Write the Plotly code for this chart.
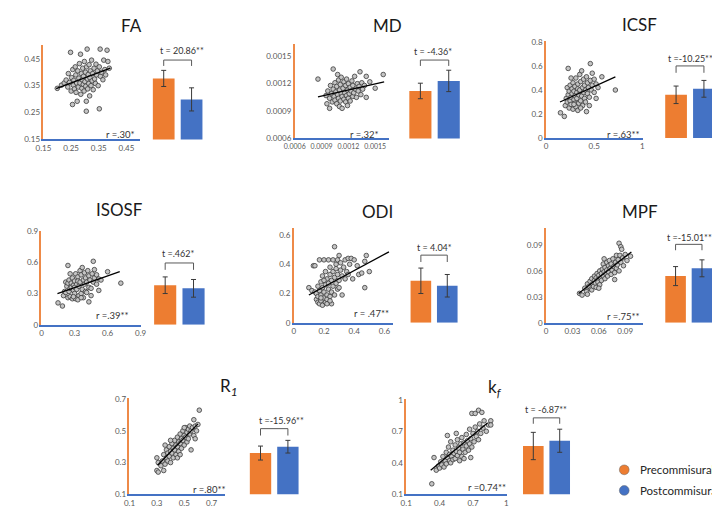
import plotly.graph_objects as go

W, H = 720, 508
ORANGE = "#ED7D31"
BLUE = "#4472C4"
FONT = "Lato"

# ---------------- data ----------------
metrics = ["FA", "MD", "ICSF", "ISOSF", "ODI", "MPF", "R1", "kf"]
titles = ["FA", "MD", "ICSF", "ISOSF", "ODI", "MPF", "R<sub><i>1</i></sub>", "k<sub><i>f</i></sub>"]
r_labels = ["r =.30*", "r =.32*", "r =.63**", "r =.39**", "r = .47**", "r =.75**", "r =.80**", "r =0.74**"]
t_labels = ["t = 20.86**", "t = -4.36*", "t =-10.25**", "t =.462*", "t = 4.04*", "t =-15.01**", "t =-15.96**", "t = -6.87**"]
group_names = ["Precommisural", "Postcommisural"]
group_colors = [ORANGE, BLUE]

bar_pre = [0.377, 0.00112, 0.36, 0.38, 0.287, 0.054, 0.36, 0.56]
bar_post = [0.299, 0.00123, 0.41, 0.35, 0.253, 0.063, 0.40, 0.61]
err_pre = [0.030, 0.000085, 0.073, 0.080, 0.087, 0.011, 0.044, 0.13]
err_post = [0.043, 0.000117, 0.070, 0.085, 0.077, 0.0098, 0.040, 0.11]

axis_ranges = [[0.15, 0.5], [0.0006, 0.00163], [0, 0.805], [0, 0.905],
               [0, 0.65], [0, 0.11], [0.1, 0.705], [0.1, 1.005]]
xaxis_ranges = [[0.15, 0.5], [0.0006, 0.00165], [0, 1.005], [0, 0.905],
                [0, 0.66], [0, 0.11], [0.1, 0.8], [0.1, 1.005]]
tick_values = [[0.15, 0.25, 0.35, 0.45], [0.0006, 0.0009, 0.0012, 0.0015],
               [0, 0.2, 0.4, 0.6, 0.8], [0, 0.3, 0.6, 0.9], [0, 0.2, 0.4, 0.6],
               [0, 0.03, 0.06, 0.09], [0.1, 0.3, 0.5, 0.7], [0.1, 0.4, 0.7, 1]]
tick_text = [["0.15", "0.25", "0.35", "0.45"], ["0.0006", "0.0009", "0.0012", "0.0015"],
             ["0", "0.2", "0.4", "0.6", "0.8"], ["0", "0.3", "0.6", "0.9"], ["0", "0.2", "0.4", "0.6"],
             ["0", "0.03", "0.06", "0.09"], ["0.1", "0.3", "0.5", "0.7"], ["0.1", "0.4", "0.7", "1"]]
xtick_values = [[0.15, 0.25, 0.35, 0.45], [0.0006, 0.0009, 0.0012, 0.0015], [0, 0.5, 1],
                [0, 0.3, 0.6, 0.9], [0, 0.2, 0.4, 0.6], [0, 0.03, 0.06, 0.09],
                [0.1, 0.3, 0.5, 0.7], [0.1, 0.4, 0.7, 1]]
xtick_text = [["0.15", "0.25", "0.35", "0.45"], ["0.0006", "0.0009", "0.0012", "0.0015"], ["0", "0.5", "1"],
              ["0", "0.3", "0.6", "0.9"], ["0", "0.2", "0.4", "0.6"], ["0", "0.03", "0.06", "0.09"],
              ["0.1", "0.3", "0.5", "0.7"], ["0.1", "0.4", "0.7", "1"]]

fit_x = [[0.196, 0.392], [0.00086, 0.00160], [0.145, 0.72], [0.145, 0.71],
         [0.10, 0.63], [0.037, 0.097], [0.305, 0.60], [0.32, 0.83]]
fit_y = [[0.339, 0.415], [0.001056, 0.00122], [0.30, 0.51], [0.30, 0.51],
         [0.19, 0.485], [0.034, 0.082], [0.283, 0.544], [0.33, 0.78]]

FA_pts = [(0.200,0.340),(0.215,0.352),(0.225,0.360),(0.232,0.371),(0.238,0.345),(0.240,0.395),(0.244,0.362),
          (0.248,0.474),(0.250,0.330),(0.252,0.380),(0.255,0.280),(0.256,0.410),(0.258,0.352),(0.260,0.370),
          (0.262,0.338),(0.265,0.420),(0.267,0.390),(0.268,0.325),(0.270,0.360),(0.272,0.292),(0.274,0.405),
          (0.276,0.345),(0.278,0.378),(0.280,0.432),(0.282,0.360),(0.284,0.467),(0.285,0.318),(0.287,0.395),
          (0.289,0.340),(0.290,0.372),(0.292,0.415),(0.294,0.355),(0.295,0.385),(0.297,0.330),(0.298,0.440),
          (0.300,0.365),(0.302,0.400),(0.303,0.348),(0.305,0.255),(0.305,0.292),(0.306,0.420),(0.308,0.486),
          (0.309,0.375),(0.310,0.338),(0.312,0.392),(0.314,0.358),(0.315,0.428),(0.317,0.312),(0.318,0.380),
          (0.320,0.405),(0.322,0.350),(0.324,0.445),(0.326,0.368),(0.328,0.395),(0.330,0.335),(0.333,0.415),
          (0.335,0.375),(0.338,0.358),(0.340,0.430),(0.342,0.390),(0.345,0.405),(0.348,0.350),(0.352,0.264),
          (0.352,0.420),(0.355,0.486),(0.356,0.385),(0.360,0.400),(0.365,0.372),(0.368,0.445),(0.372,0.410),
          (0.375,0.390),(0.380,0.482),(0.383,0.440),(0.388,0.415)]

MD_pts = [(0.00086,0.00125),(0.00095,0.00107),(0.00097,0.00112),(0.00099,0.00093),(0.00099,0.00104),
          (0.00100,0.00118),(0.00101,0.00109),(0.00102,0.00100),(0.00103,0.00136),(0.00103,0.00114),
          (0.00104,0.00106),(0.00105,0.00121),(0.00105,0.00102),(0.00106,0.00111),(0.00107,0.00117),
          (0.00107,0.00098),(0.00108,0.00108),(0.00109,0.00124),(0.00109,0.00104),(0.00110,0.00095),
          (0.00110,0.00113),(0.00111,0.00119),(0.00111,0.00101),(0.00112,0.00109),(0.00112,0.00127),
          (0.00113,0.00093),(0.00113,0.00106),(0.00114,0.00115),(0.00115,0.00122),(0.00115,0.00103),
          (0.00116,0.00110),(0.00117,0.00118),(0.00117,0.00100),(0.00118,0.00107),(0.00118,0.00125),
          (0.00119,0.00113),(0.00120,0.00104),(0.00120,0.00120),(0.00121,0.00109),(0.00122,0.00116),
          (0.00122,0.00101),(0.00123,0.00112),(0.00124,0.00123),(0.00125,0.00106),(0.00125,0.00118),
          (0.00126,0.00110),(0.00127,0.00128),(0.00128,0.00114),(0.00129,0.00105),(0.00130,0.00120),
          (0.00131,0.00112),(0.00132,0.00117),(0.00133,0.00133),(0.00134,0.00108),(0.00135,0.00121),
          (0.00136,0.00114),(0.00138,0.00118),(0.00140,0.00128),(0.00140,0.00105),(0.00144,0.00122),
          (0.00150,0.00115),(0.00159,0.00130),(0.00108,0.00130),(0.00096,0.00098),(0.00119,0.00096)]

ICSF_pts = [(0.15,0.21),(0.19,0.18),(0.20,0.27),(0.21,0.33),(0.22,0.30),(0.22,0.42),(0.23,0.58),(0.23,0.36),
            (0.24,0.25),(0.24,0.39),(0.25,0.31),(0.25,0.44),(0.26,0.34),(0.26,0.28),(0.27,0.41),(0.27,0.37),
            (0.28,0.24),(0.28,0.46),(0.29,0.32),(0.29,0.39),(0.30,0.29),(0.30,0.43),(0.30,0.35),(0.31,0.50),
            (0.31,0.26),(0.32,0.38),(0.32,0.33),(0.33,0.45),(0.33,0.41),(0.34,0.29),(0.34,0.36),(0.35,0.53),
            (0.35,0.40),(0.36,0.31),(0.36,0.47),(0.37,0.35),(0.37,0.56),(0.38,0.42),(0.38,0.27),(0.39,0.38),
            (0.39,0.49),(0.40,0.33),(0.40,0.44),(0.41,0.40),(0.42,0.22),(0.42,0.51),(0.43,0.37),(0.43,0.46),
            (0.44,0.42),(0.45,0.34),(0.46,0.62),(0.46,0.48),(0.47,0.40),(0.48,0.54),(0.48,0.44),(0.50,0.49),
            (0.50,0.38),(0.52,0.33),(0.52,0.45),(0.54,0.42),(0.58,0.51),(0.72,0.40),(0.26,0.50),(0.33,0.23),
            (0.45,0.27),(0.29,0.28),(0.36,0.25),(0.41,0.30)]

ISOSF_pts = [(0.15,0.21),(0.19,0.18),(0.20,0.28),(0.21,0.32),(0.22,0.31),(0.22,0.41),(0.24,0.57),(0.23,0.37),
             (0.24,0.26),(0.24,0.40),(0.25,0.32),(0.25,0.43),(0.26,0.35),(0.26,0.27),(0.27,0.40),(0.27,0.36),
             (0.28,0.25),(0.28,0.45),(0.29,0.33),(0.29,0.38),(0.30,0.30),(0.30,0.42),(0.30,0.36),(0.31,0.49),
             (0.31,0.25),(0.32,0.39),(0.32,0.34),(0.33,0.46),(0.33,0.42),(0.34,0.28),(0.34,0.37),(0.35,0.52),
             (0.35,0.41),(0.36,0.30),(0.36,0.48),(0.37,0.34),(0.37,0.55),(0.38,0.43),(0.38,0.26),(0.39,0.39),
             (0.39,0.50),(0.40,0.32),(0.40,0.45),(0.41,0.41),(0.43,0.22),(0.42,0.52),(0.43,0.36),(0.43,0.47),
             (0.44,0.43),(0.45,0.35),(0.47,0.61),(0.46,0.49),(0.47,0.41),(0.48,0.53),(0.48,0.45),(0.50,0.48),
             (0.50,0.39),(0.52,0.33),(0.52,0.44),(0.54,0.43),(0.60,0.51),(0.72,0.40),(0.26,0.49),(0.33,0.24),
             (0.45,0.28),(0.29,0.27),(0.36,0.26),(0.41,0.31)]

ODI_pts = [(0.10,0.24),(0.12,0.22),(0.13,0.39),(0.14,0.39),(0.14,0.21),(0.15,0.16),(0.15,0.20),(0.16,0.14),
           (0.16,0.18),(0.16,0.25),(0.17,0.13),(0.17,0.43),(0.17,0.22),(0.18,0.15),(0.18,0.28),(0.18,0.19),
           (0.19,0.12),(0.19,0.24),(0.19,0.32),(0.20,0.17),(0.20,0.43),(0.20,0.21),(0.21,0.14),(0.21,0.26),
           (0.21,0.35),(0.22,0.19),(0.22,0.30),(0.22,0.16),(0.23,0.43),(0.23,0.23),(0.23,0.27),(0.24,0.18),
           (0.24,0.33),(0.24,0.38),(0.25,0.21),(0.25,0.29),(0.26,0.43),(0.26,0.25),(0.26,0.35),(0.27,0.52),
           (0.27,0.19),(0.27,0.31),(0.28,0.40),(0.28,0.27),(0.28,0.37),(0.29,0.43),(0.29,0.33),(0.29,0.23),
           (0.30,0.46),(0.30,0.29),(0.31,0.36),(0.31,0.41),(0.32,0.19),(0.32,0.32),(0.33,0.38),(0.34,0.43),
           (0.34,0.30),(0.35,0.35),(0.36,0.44),(0.36,0.33),(0.37,0.40),(0.38,0.44),(0.39,0.30),(0.40,0.43),
           (0.42,0.39),(0.43,0.33),(0.45,0.34),(0.47,0.24),(0.47,0.42),(0.48,0.46),(0.50,0.35),(0.25,0.13),
           (0.20,0.29),(0.30,0.24),(0.18,0.17),(0.22,0.13),(0.24,0.15)]

MPF_pts = [(0.038,0.034),(0.041,0.032),(0.044,0.040),(0.046,0.036),(0.047,0.033),(0.047,0.045),(0.049,0.042),
           (0.050,0.048),(0.051,0.039),(0.052,0.038),(0.052,0.051),(0.053,0.045),(0.054,0.042),(0.055,0.049),
           (0.055,0.054),(0.056,0.046),(0.057,0.052),(0.057,0.041),(0.058,0.057),(0.059,0.050),(0.059,0.047),
           (0.060,0.055),(0.061,0.044),(0.061,0.060),(0.062,0.052),(0.063,0.057),(0.063,0.049),(0.064,0.062),
           (0.065,0.054),(0.065,0.068),(0.066,0.059),(0.067,0.051),(0.067,0.064),(0.068,0.057),(0.069,0.070),
           (0.069,0.061),(0.070,0.054),(0.071,0.066),(0.071,0.059),(0.072,0.072),(0.073,0.063),(0.074,0.056),
           (0.074,0.068),(0.075,0.061),(0.076,0.074),(0.077,0.065),(0.078,0.058),(0.079,0.070),(0.080,0.063),
           (0.080,0.078),(0.081,0.067),(0.082,0.073),(0.083,0.092),(0.083,0.060),(0.084,0.078),(0.085,0.088),
           (0.085,0.070),(0.086,0.085),(0.087,0.075),(0.088,0.066),(0.090,0.079),(0.092,0.072),(0.096,0.077),
           (0.078,0.050),(0.066,0.074),(0.060,0.040)]

R1_pts = [(0.30,0.25),(0.31,0.24),(0.30,0.33),(0.31,0.30),(0.33,0.28),(0.35,0.25),(0.34,0.31),(0.35,0.35),
          (0.36,0.29),(0.37,0.33),(0.37,0.38),(0.38,0.31),(0.38,0.36),(0.39,0.40),(0.39,0.34),(0.40,0.37),
          (0.40,0.30),(0.41,0.42),(0.41,0.36),(0.42,0.39),(0.42,0.33),(0.43,0.44),(0.43,0.38),(0.44,0.41),
          (0.44,0.35),(0.45,0.46),(0.45,0.40),(0.46,0.43),(0.46,0.37),(0.47,0.48),(0.47,0.42),(0.48,0.45),
          (0.48,0.39),(0.49,0.50),(0.49,0.44),(0.50,0.47),(0.50,0.41),(0.51,0.52),(0.51,0.46),(0.52,0.49),
          (0.52,0.43),(0.53,0.51),(0.53,0.45),(0.54,0.53),(0.54,0.48),(0.55,0.50),(0.55,0.38),(0.56,0.52),
          (0.57,0.57),(0.57,0.47),(0.58,0.53),(0.59,0.50),(0.60,0.54),(0.61,0.63),(0.58,0.45),(0.40,0.44),
          (0.36,0.41),(0.45,0.33),(0.50,0.52),(0.47,0.35)]

kf_pts = [(0.33,0.20),(0.35,0.45),(0.37,0.33),(0.39,0.37),(0.40,0.35),(0.41,0.41),(0.42,0.38),(0.43,0.46),
          (0.44,0.36),(0.45,0.42),(0.46,0.50),(0.46,0.39),(0.47,0.45),(0.48,0.55),(0.49,0.42),(0.49,0.48),
          (0.50,0.40),(0.50,0.60),(0.51,0.46),(0.52,0.52),(0.52,0.43),(0.53,0.49),(0.54,0.57),(0.54,0.44),
          (0.55,0.51),(0.56,0.47),(0.56,0.62),(0.57,0.54),(0.58,0.42),(0.58,0.50),(0.59,0.58),(0.60,0.46),
          (0.60,0.64),(0.61,0.53),(0.62,0.59),(0.62,0.44),(0.63,0.50),(0.64,0.67),(0.64,0.56),(0.65,0.61),
          (0.66,0.52),(0.67,0.72),(0.67,0.58),(0.68,0.63),(0.69,0.87),(0.69,0.55),(0.70,0.68),(0.71,0.60),
          (0.72,0.87),(0.72,0.74),(0.73,0.65),(0.74,0.70),(0.75,0.90),(0.75,0.62),(0.76,0.77),(0.77,0.68),
          (0.78,0.88),(0.79,0.73),(0.80,0.80),(0.82,0.70),(0.84,0.76),(0.86,0.80),(0.86,0.76),(0.55,0.68),
          (0.47,0.66),(0.68,0.45)]

scatter_points = [FA_pts, MD_pts, ICSF_pts, ISOSF_pts, ODI_pts, MPF_pts, R1_pts, kf_pts]

# ---------------- layout (pixel positions) ----------------
sc_box = [(25, 124, 33, 129), (282, 378, 32, 128), (539, 638, 29, 127.5), (23, 125, 222, 318),
          (281, 383, 219, 316), (539, 638, 219, 316), (113, 211, 393, 491), (396, 499, 394, 491)]
bar_centers = [(148, 176.5), (410.5, 439.5), (672, 700.5), (149.5, 178.5),
               (411, 438), (671.5, 698.5), (247, 275), (526, 553)]
title_pos = [(115, 13), (377, 13), (635, 12), (103, 200), (367, 202), (635, 202), (215, 382), (487, 383)]
t_pos = [(167, 38), (423, 39), (687, 46), (163, 245), (425, 239), (686, 229), (268, 416), (539, 404)]
bracket_y = [(48, 54), (48, 54), (54, 61), (255, 262), (247, 254), (236, 242), (424, 431), (413, 419)]
r_pos = [(121, 124), (370, 124), (637, 124), (115, 309), (380, 307), (637, 310), (214, 486), (500, 484)]
xtick_sizes = [8, 7, 8, 8, 8, 8, 8, 8]
legend_rows = [466, 487]


def px(x):
    return x / W


def py(y):
    return 1 - y / H


fig = go.Figure()
layout = {}
annotations = []
shapes = []

for i, m in enumerate(metrics):
    ns = 2 * i + 1
    nb = 2 * i + 2
    l, r, t, b = sc_box[i]
    pts = scatter_points[i]
    xs = [p[0] for p in pts]
    ys = [p[1] for p in pts]

    fig.add_trace(go.Scatter(x=xs, y=ys, mode="markers", xaxis=f"x{ns}", yaxis=f"y{ns}",
                             marker=dict(size=4.6, color="#c4c4c4", line=dict(color="#3a3a3a", width=0.8)),
                             showlegend=False, hoverinfo="skip"))
    fig.add_trace(go.Scatter(x=fit_x[i], y=fit_y[i], mode="lines", xaxis=f"x{ns}", yaxis=f"y{ns}",
                             line=dict(color="black", width=1.3), showlegend=False, hoverinfo="skip"))

    tickfont = dict(size=8, color="#595959", family=FONT)
    layout[f"xaxis{ns}"] = dict(domain=[px(l), px(r)], range=xaxis_ranges[i], anchor=f"y{ns}",
                                showline=True, linecolor=BLUE, linewidth=1.6, showgrid=False, zeroline=False,
                                tickvals=xtick_values[i], ticktext=xtick_text[i],
                                tickfont=dict(size=xtick_sizes[i], color="#595959", family=FONT),
                                ticks="", tickangle=0, fixedrange=True)
    layout[f"yaxis{ns}"] = dict(domain=[py(b), py(t)], range=axis_ranges[i], anchor=f"x{ns}",
                                showline=True, linecolor="#EE8A48", linewidth=1.6, showgrid=False, zeroline=False,
                                tickvals=tick_values[i], ticktext=tick_text[i], tickfont=tickfont,
                                ticks="", fixedrange=True)

    c0, c1 = bar_centers[i]
    s = c1 - c0
    fig.add_trace(go.Bar(x=[0, 1], y=[bar_pre[i], bar_post[i]], xaxis=f"x{nb}", yaxis=f"y{nb}",
                         marker=dict(color=group_colors, line=dict(width=0)),
                         error_y=dict(type="data", array=[err_pre[i], err_post[i]], color="#3a3a3a",
                                      thickness=1, width=2.5),
                         showlegend=False, hoverinfo="skip"))
    layout[f"xaxis{nb}"] = dict(domain=[px(c0 - s / 2), px(c1 + s / 2)], range=[-0.5, 1.5],
                                anchor=f"y{nb}", visible=False, fixedrange=True)
    layout[f"yaxis{nb}"] = dict(domain=[py(b), py(t)], range=axis_ranges[i], anchor=f"x{nb}",
                                visible=False, fixedrange=True)

    tx, ty = title_pos[i]
    annotations.append(dict(x=px(tx), y=py(ty), xref="paper", yref="paper", text=titles[i],
                            showarrow=False, xanchor="center", yanchor="middle",
                            font=dict(size=17, color="#1a1a1a", family=FONT)))
    ttx, tty = t_pos[i]
    annotations.append(dict(x=px(ttx), y=py(tty), xref="paper", yref="paper", text=t_labels[i],
                            showarrow=False, xanchor="center", yanchor="middle",
                            font=dict(size=9, color="#333333", family=FONT)))
    rx, ry = r_pos[i]
    annotations.append(dict(x=px(rx), y=py(ry), xref="paper", yref="paper", text=r_labels[i],
                            showarrow=False, xanchor="right", yanchor="middle",
                            font=dict(size=9.5, color="#333333", family=FONT)))
    btop, bside = bracket_y[i]
    shapes.append(dict(type="path", xref=f"x{nb}", yref="paper",
                       path=f"M 0,{py(bside)} L 0,{py(btop)} L 1,{py(btop)} L 1,{py(bside)}",
                       line=dict(color="#595959", width=1)))

# legend (drawn as symbols + text)
for name, col, ry in zip(group_names, group_colors, legend_rows):
    shapes.append(dict(type="circle", xref="paper", yref="paper",
                       x0=px(614), x1=px(624), y0=py(ry + 5), y1=py(ry - 5),
                       fillcolor=col, line=dict(color="#666666", width=0.5)))
    annotations.append(dict(x=px(633), y=py(ry), xref="paper", yref="paper", text=name,
                            showarrow=False, xanchor="left", yanchor="middle",
                            font=dict(size=11.5, color="#262626", family=FONT)))

fig.update_layout(**layout)
fig.update_layout(
    width=W, height=H, margin=dict(l=0, r=0, t=0, b=0),
    paper_bgcolor="white", plot_bgcolor="white",
    bargap=0.22, annotations=annotations, shapes=shapes,
    font=dict(family=FONT), showlegend=False,
)

fig.write_html("out.html")
